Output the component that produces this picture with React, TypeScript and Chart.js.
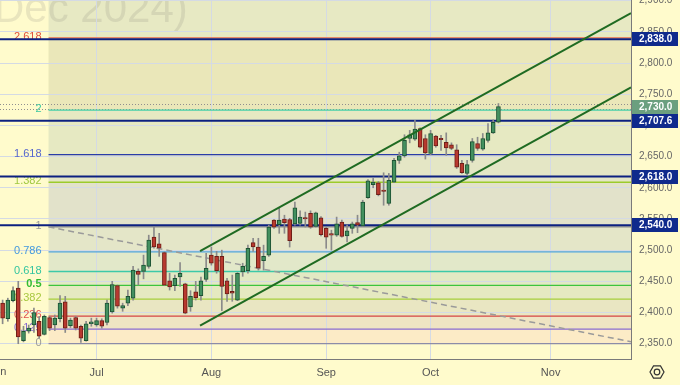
import React, { useEffect, useRef } from "react";
import { Chart, registerables } from "chart.js";

Chart.register(...registerables);

// ---- data ----
const FIRST_INDEX = -18; // trading-day index of first candle (0 = Jul 1)
const opens = [2415, 2390, 2419, 2439, 2355, 2370, 2380, 2386, 2365, 2392, 2380, 2390, 2417, 2379, 2392, 2378, 2355, 2382,
  2380, 2387, 2384, 2401, 2443, 2407, 2415, 2423, 2466, 2466, 2474, 2521, 2510, 2496, 2451, 2443, 2457, 2446, 2409, 2433, 2427, 2453,
  2492, 2490, 2490, 2451, 2434, 2420, 2465, 2467, 2512, 2505, 2483, 2492, 2548, 2541, 2550, 2549, 2542, 2543, 2552, 2559, 2538, 2552,
  2535, 2525, 2524, 2545, 2523, 2535, 2544, 2539, 2584, 2605, 2608, 2596, 2575, 2609, 2644, 2651, 2679, 2678, 2695, 2679,
  2655, 2683, 2678, 2673, 2669, 2661, 2639, 2623, 2644, 2671, 2662, 2676, 2688, 2705];
const highs = [2420, 2423, 2441, 2450, 2378, 2380, 2407, 2394, 2396, 2394, 2396, 2427, 2426, 2391, 2394, 2380, 2386, 2391,
  2391, 2390, 2420, 2450, 2444, 2415, 2436, 2474, 2470, 2492, 2524, 2537, 2527, 2497, 2463, 2460, 2480, 2447, 2435, 2450, 2457, 2495,
  2505, 2498, 2500, 2455, 2460, 2464, 2479, 2508, 2519, 2519, 2508, 2540, 2549, 2567, 2556, 2551, 2577, 2563, 2561, 2563, 2561, 2554,
  2537, 2532, 2553, 2548, 2540, 2545, 2556, 2580, 2613, 2615, 2610, 2624, 2623, 2647, 2657, 2685, 2692, 2708, 2696, 2685,
  2692, 2684, 2684, 2688, 2672, 2669, 2644, 2644, 2679, 2681, 2687, 2703, 2709, 2735];
const lows = [2382, 2386, 2417, 2350, 2353, 2367, 2368, 2359, 2364, 2371, 2371, 2385, 2368, 2376, 2372, 2352, 2354, 2378,
  2378, 2375, 2380, 2399, 2407, 2402, 2411, 2420, 2444, 2454, 2471, 2503, 2490, 2443, 2436, 2435, 2442, 2398, 2402, 2420, 2420, 2450,
  2476, 2463, 2403, 2418, 2418, 2419, 2458, 2463, 2498, 2468, 2468, 2490, 2535, 2527, 2527, 2505, 2540, 2540, 2537, 2535, 2537, 2523,
  2503, 2500, 2522, 2521, 2513, 2527, 2528, 2538, 2583, 2600, 2587, 2572, 2572, 2608, 2639, 2649, 2672, 2676, 2664, 2646,
  2653, 2665, 2660, 2652, 2661, 2631, 2623, 2620, 2641, 2660, 2660, 2673, 2687, 2704];
const closes = [2391, 2420, 2435, 2361, 2370, 2375, 2400, 2362, 2394, 2375, 2391, 2415, 2375, 2388, 2375, 2359, 2382, 2385,
  2387, 2378, 2415, 2445, 2410, 2411, 2426, 2468, 2461, 2476, 2516, 2505, 2503, 2444, 2441, 2455, 2463, 2399, 2426, 2424, 2451, 2471,
  2479, 2467, 2442, 2430, 2431, 2463, 2474, 2503, 2505, 2471, 2490, 2537, 2537, 2548, 2544, 2515, 2568, 2553, 2550, 2537, 2560, 2525,
  2521, 2524, 2542, 2522, 2531, 2542, 2540, 2577, 2611, 2609, 2589, 2594, 2612, 2644, 2651, 2676, 2685, 2694, 2665, 2656,
  2687, 2667, 2677, 2664, 2663, 2633, 2624, 2637, 2674, 2663, 2679, 2688, 2705, 2730];

const monthTicks = [0, 22, 44, 64, 87];
const monthLabels = ["Jul", "Aug", "Sep", "Oct", "Nov"];
const junIndex = -19;

const fibZero = 2350;
const fibOne = 2537.3;
const fibStart = -9.2;
const fibRatios = [0, 0.125, 0.236, 0.382, 0.5, 0.618, 0.786, 1, 1.382, 1.618, 2, 2.618];
const fibLabels = ["0", "0.125", "0.236", "0.382", "0.5", "0.618", "0.786", "1", "1.382", "1.618", "2", "2.618"];

const levelLines = [2838.0, 2707.6, 2618.0, 2540.0];
const lastPrice = 2730.0;
const dottedLines = [2735, 2727];

const upperChannel = [{ x: 19.83, y: 2498.6 }, { x: 102.4, y: 2879.9 }];
const lowerChannel = [{ x: 19.83, y: 2379.2 }, { x: 102.4, y: 2761.0 }];
const trendDashed = [{ x: -9.2, y: 2537.3 }, { x: 102.4, y: 2353.2 }];

// ---- styles ----
const BG = "#FFFBCC";
const fibLineColors = ["#8C8CA8", "#8A6BD1", "#D64545", "#A6CF3A", "#3DC43D", "#3CC9A8", "#4FA3E0", "#8A8A8A", "#9CCB2C", "#2A3CA8", "#45D1A8", "#E86A4A"];
const fibLabelColors = ["#9A9A9A", "#8A6BD1", "#E05050", "#A8C840", "#33BB33", "#33C4A0", "#4499DD", "#9A9A9A", "#A0C840", "#5566CC", "#3CC8A0", "#E0503C"];
const zoneColors = ["#FCEBC6", "#EFE4C3", "#E9E6C2", "#E5E9C0", "#E2E9C3", "#E2E8C9", "#E4E6C8", "#E2E2CA", "#E4E6C5", "#E6E9C2", "#EAE7B9", "#E7E9C3"];
const NAVY = "#0c2080";
const FONT = "'Liberation Sans', Arial, sans-serif";

const fmt = (v: number) => v.toLocaleString("en-US", { minimumFractionDigits: 1, maximumFractionDigits: 1 });

const overlayPlugin = {
  id: "overlay",
  beforeDraw(chart: any) {
    const { ctx, chartArea, scales } = chart;
    const x = scales.x, y = scales.y;
    ctx.save();
    ctx.fillStyle = BG;
    ctx.fillRect(0, 0, chart.width, chart.height);
    const x0 = x.getPixelForValue(fibStart);
    const levels = fibRatios.map((r) => fibZero + r * (fibOne - fibZero));
    for (let k = 0; k < levels.length; k++) {
      const yb = y.getPixelForValue(levels[k]);
      const yt = k + 1 < levels.length ? y.getPixelForValue(levels[k + 1]) : chartArea.top;
      ctx.fillStyle = zoneColors[k];
      ctx.fillRect(x0, yt, chartArea.right - x0, yb - yt);
    }
    // watermark
    ctx.beginPath();
    ctx.rect(chartArea.left, chartArea.top, chartArea.right - chartArea.left, chartArea.bottom - chartArea.top);
    ctx.clip();
    ctx.font = `42px ${FONT}`;
    ctx.fillStyle = "rgba(120,120,110,0.16)";
    ctx.textAlign = "left";
    ctx.textBaseline = "alphabetic";
    ctx.fillText("(Dec 2024)", -20, 22);
    ctx.restore();
  },
  beforeDatasetsDraw(chart: any) {
    const { ctx, chartArea, scales } = chart;
    const x = scales.x, y = scales.y;
    ctx.save();
    ctx.beginPath();
    ctx.rect(chartArea.left, chartArea.top, chartArea.right - chartArea.left, chartArea.bottom - chartArea.top);
    ctx.clip();
    const x0 = x.getPixelForValue(fibStart);
    // dotted lines
    ctx.setLineDash([1, 2]);
    ctx.strokeStyle = "#8f8f8f";
    ctx.lineWidth = 1;
    dottedLines.forEach((v) => {
      const py = Math.round(y.getPixelForValue(v)) + 0.5;
      ctx.beginPath();
      ctx.moveTo(chartArea.left, py);
      ctx.lineTo(chartArea.right, py);
      ctx.stroke();
    });
    ctx.setLineDash([]);
    // fib lines
    fibRatios.forEach((r, k) => {
      const v = fibZero + r * (fibOne - fibZero);
      const py = y.getPixelForValue(v);
      ctx.strokeStyle = fibLineColors[k];
      ctx.lineWidth = 1.3;
      ctx.beginPath();
      ctx.moveTo(x0, py);
      ctx.lineTo(chartArea.right, py);
      ctx.stroke();
      ctx.fillStyle = fibLabelColors[k];
      ctx.font = (fibLabels[k] === "0.5" ? "bold " : "") + `11px ${FONT}`;
      ctx.textAlign = "right";
      ctx.textBaseline = "middle";
      ctx.fillText(fibLabels[k], x0 - 7, py - 1);
    });
    // thick navy level lines
    levelLines.forEach((v) => {
      const py = y.getPixelForValue(v);
      ctx.strokeStyle = NAVY;
      ctx.lineWidth = 2;
      ctx.beginPath();
      ctx.moveTo(chartArea.left, py);
      ctx.lineTo(chartArea.right, py);
      ctx.stroke();
    });
    ctx.restore();
  },
  afterDraw(chart: any) {
    const { ctx, chartArea, scales } = chart;
    const x = scales.x, y = scales.y;
    ctx.save();
    const bx = chartArea.right + 1;
    const box = (v: number, color: string) => {
      const py = Math.round(y.getPixelForValue(v));
      ctx.fillStyle = color;
      ctx.fillRect(bx, py - 7, 46, 14);
      ctx.fillStyle = "#ffffff";
      ctx.font = `bold 10px ${FONT}`;
      ctx.textAlign = "left";
      ctx.textBaseline = "middle";
      ctx.fillText(fmt(v), bx + 7, py + 0.5);
    };
    levelLines.forEach((v) => box(v, "#0f2a8c"));
    box(lastPrice, "#6b9f7f");
    // partial first month label
    ctx.fillStyle = "#555";
    ctx.font = `11px ${FONT}`;
    ctx.textAlign = "center";
    ctx.textBaseline = "middle";
    ctx.fillText("Jun", x.getPixelForValue(junIndex), 372);
    // settings icon
    const cx = 657, cy = 372, r = 7;
    ctx.strokeStyle = "#333";
    ctx.lineWidth = 1.2;
    ctx.beginPath();
    for (let i = 0; i < 6; i++) {
      const a = Math.PI / 3 * i;
      const px = cx + r * Math.cos(a), py = cy + r * Math.sin(a);
      if (i === 0) ctx.moveTo(px, py); else ctx.lineTo(px, py);
    }
    ctx.closePath();
    ctx.stroke();
    ctx.beginPath();
    ctx.arc(cx, cy, 2.8, 0, Math.PI * 2);
    ctx.stroke();
    ctx.restore();
  },
};

export default function App() {
  const ref = useRef<HTMLCanvasElement | null>(null);
  useEffect(() => {
    document.body.style.margin = "0";
    const canvas = ref.current!;
    const xs = opens.map((_, k) => FIRST_INDEX + k);
    const up = opens.map((o, k) => closes[k] >= o);
    const bodies = opens.map((o, k) => ({ x: xs[k], y: [o, closes[k]] }));
    const wicks = opens.map((_, k) => ({ x: xs[k], y: [lows[k], highs[k]] }));
    const chart = new Chart(canvas, {
      type: "bar",
      data: {
        datasets: [
          {
            type: "line",
            data: upperChannel,
            borderColor: "#1f6b22",
            borderWidth: 2,
            pointRadius: 0,
            order: 0,
          } as any,
          {
            type: "line",
            data: lowerChannel,
            borderColor: "#1f6b22",
            borderWidth: 2,
            pointRadius: 0,
            order: 0,
          } as any,
          {
            type: "line",
            data: trendDashed,
            borderColor: "#9a9a9a",
            borderWidth: 1.5,
            borderDash: [6, 4],
            pointRadius: 0,
            order: 3,
          } as any,
          {
            data: bodies,
            backgroundColor: up.map((u) => (u ? "#43905f" : "#b8392f")),
            borderColor: up.map((u) => (u ? "#1d5233" : "#6e1e16")),
            borderWidth: 1,
            borderSkipped: false,
            barThickness: 4,
            minBarLength: 1.5,
            grouped: false,
            order: 1,
          } as any,
          {
            data: wicks,
            backgroundColor: "#8a8a8a",
            borderWidth: 0,
            barThickness: 1,
            grouped: false,
            order: 2,
          } as any,
        ],
      },
      options: {
        animation: false,
        responsive: false,
        devicePixelRatio: 1,
        layout: { padding: 0 },
        plugins: { legend: { display: false }, tooltip: { enabled: false } },
        scales: {
          x: {
            type: "linear",
            position: "bottom",
            offset: false,
            min: -18.5,
            max: 102.4,
            grid: { color: "#d4dae4", drawTicks: false, offset: false },
            border: { color: "#7a7a7a" },
            afterBuildTicks: (axis: any) => {
              axis.ticks = monthTicks.map((v) => ({ value: v }));
            },
            afterFit: (axis: any) => {
              axis.height = 26;
              axis.paddingLeft = 0;
              axis.paddingRight = 0;
            },
            ticks: {
              autoSkip: false,
              maxRotation: 0,
              padding: 7,
              color: "#555",
              font: { family: FONT, size: 11 },
              callback: (v: any) => {
                const i = monthTicks.indexOf(Number(v));
                return i >= 0 ? monthLabels[i] : "";
              },
            },
          },
          y: {
            type: "linear",
            position: "right",
            min: 2325.5,
            max: 2901,
            grid: { color: "#d4dae4", drawTicks: false },
            border: { color: "#7a7a7a" },
            afterFit: (axis: any) => {
              axis.width = 49;
              axis.paddingTop = 0;
              axis.paddingBottom = 0;
            },
            ticks: {
              stepSize: 50,
              includeBounds: false,
              padding: 8,
              color: "#666",
              font: { family: FONT, size: 10 },
              callback: (v: any) => fmt(Number(v)),
            },
          },
        },
      } as any,
      plugins: [overlayPlugin],
    });
    return () => chart.destroy();
  }, []);
  return (
    <div style={{ width: 680, height: 385 }}>
      <canvas ref={ref} width={680} height={385} style={{ display: "block" }} />
    </div>
  );
}
